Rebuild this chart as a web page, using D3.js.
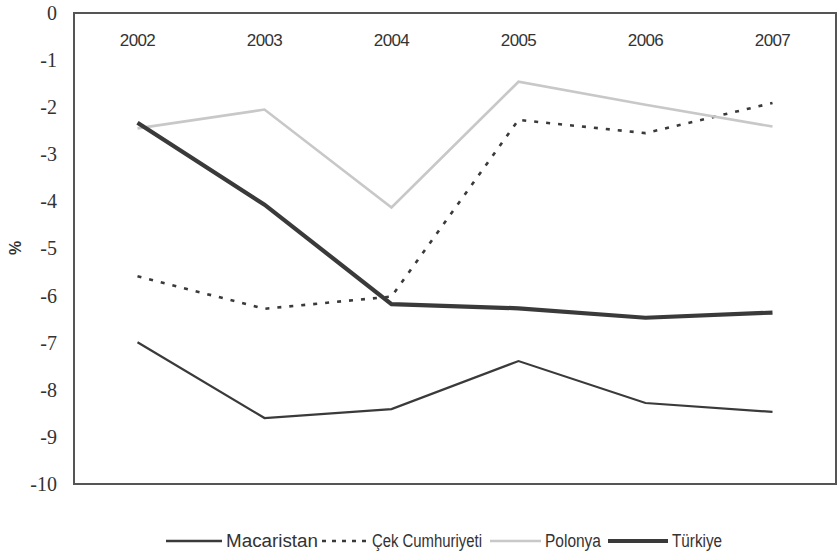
<!DOCTYPE html>
<html>
<head>
<meta charset="utf-8">
<script src="https://cdn.jsdelivr.net/npm/d3@7"></script>
<style>
  html, body { margin: 0; padding: 0; background: #fff; }
  svg { display: block; }
</style>
</head>
<body>
<svg id="chart" width="837" height="554"></svg>
<script>
// Current account balance as % of GDP, 2002–2007
const years = ["2002", "2003", "2004", "2005", "2006", "2007"];
const yTicks = [0, -1, -2, -3, -4, -5, -6, -7, -8, -9, -10];
const seriesNames = ["Macaristan", "Çek Cumhuriyeti", "Polonya", "Türkiye"];
const macaristan = [-6.99, -8.60, -8.41, -7.39, -8.28, -8.47];
const cekCumhuriyeti = [-5.59, -6.28, -6.02, -2.27, -2.55, -1.91];
const polonya = [-2.45, -2.05, -4.13, -1.46, -1.95, -2.41];
const turkiye = [-2.33, -4.07, -6.18, -6.27, -6.47, -6.36];

const seriesValues = [macaristan, cekCumhuriyeti, polonya, turkiye];
const styles = [
  { stroke: "#3a3a3a", width: 2.2, dash: null },
  { stroke: "#3a3a3a", width: 2.6, dash: "4,8" },
  { stroke: "#c8c8c8", width: 2.6, dash: null },
  { stroke: "#3a3a3a", width: 4.2, dash: null }
];

const svg = d3.select("#chart");
const plot = { left: 74, right: 836, top: 13, bottom: 484 };

const x = d3.scaleBand().domain(years).range([plot.left, plot.right]);
const y = d3.scaleLinear().domain([-10, 0]).range([plot.bottom, plot.top]);

// Frame
svg.append("rect")
  .attr("x", plot.left).attr("y", plot.top)
  .attr("width", plot.right - plot.left).attr("height", plot.bottom - plot.top)
  .attr("fill", "none").attr("stroke", "#555").attr("stroke-width", 2);

// Y axis labels
const yAxis = d3.axisLeft(y).tickValues(yTicks).tickSize(0).tickPadding(17)
  .tickFormat(d => d === 0 ? "0" : "-" + Math.abs(d));
const gy = svg.append("g").attr("transform", `translate(${plot.left},0)`).call(yAxis);
gy.attr("font-family", null).attr("font-size", null);
gy.select(".domain").remove();
gy.selectAll("text")
  .style("font-family", "'Liberation Serif', 'Times New Roman', serif")
  .style("font-size", "20px").style("fill", "#333");

// Year labels inside the frame at the top
const xAxis = d3.axisBottom(x).tickSize(0).tickPadding(0);
const gx = svg.append("g").attr("transform", `translate(0,${plot.top + 21})`).call(xAxis);
gx.attr("font-family", null).attr("font-size", null);
gx.select(".domain").remove();
gx.selectAll("text")
  .style("font-family", "'Liberation Sans', Arial, sans-serif")
  .style("font-size", "17px").style("fill", "#333").style("letter-spacing", "-0.6px");

// Axis title
svg.append("text")
  .attr("transform", "translate(21,248) rotate(-90)")
  .attr("text-anchor", "middle")
  .style("font-family", "'Liberation Sans', Arial, sans-serif")
  .style("font-weight", "bold").style("font-size", "16px").style("fill", "#333")
  .text("%");

// Series lines
const line = d3.line()
  .x((d, i) => x(years[i]) + x.bandwidth() / 2)
  .y(d => y(d));

seriesValues.forEach((vals, k) => {
  const st = styles[k];
  svg.append("path")
    .datum(vals)
    .attr("d", line)
    .attr("fill", "none")
    .attr("stroke", st.stroke)
    .attr("stroke-width", st.width)
    .attr("stroke-dasharray", st.dash)
    .attr("stroke-linejoin", "miter");
});

// Legend
const legendItems = [
  { x0: 166, x1: 222, tx: 226, w: 92 },
  { x0: 322, x1: 368, tx: 372, w: 110 },
  { x0: 490, x1: 541, tx: 545, w: 56 },
  { x0: 608, x1: 668, tx: 672, w: 50 }
];
const legendY = 541;
const lg = svg.append("g");
seriesNames.forEach((name, k) => {
  const st = styles[k];
  const it = legendItems[k];
  lg.append("line")
    .attr("x1", it.x0).attr("x2", it.x1)
    .attr("y1", legendY).attr("y2", legendY)
    .attr("stroke", st.stroke)
    .attr("stroke-width", k === 3 ? 4 : (k === 1 ? 2.6 : 2.4))
    .attr("stroke-dasharray", k === 1 ? "4,6" : null);
  lg.append("text")
    .attr("x", it.tx).attr("y", legendY + 6)
    .attr("textLength", it.w).attr("lengthAdjust", "spacingAndGlyphs")
    .style("font-family", "'Liberation Sans', Arial, sans-serif")
    .style("font-size", "18px").style("fill", "#333")
    .text(name);
});
</script>
</body>
</html>
